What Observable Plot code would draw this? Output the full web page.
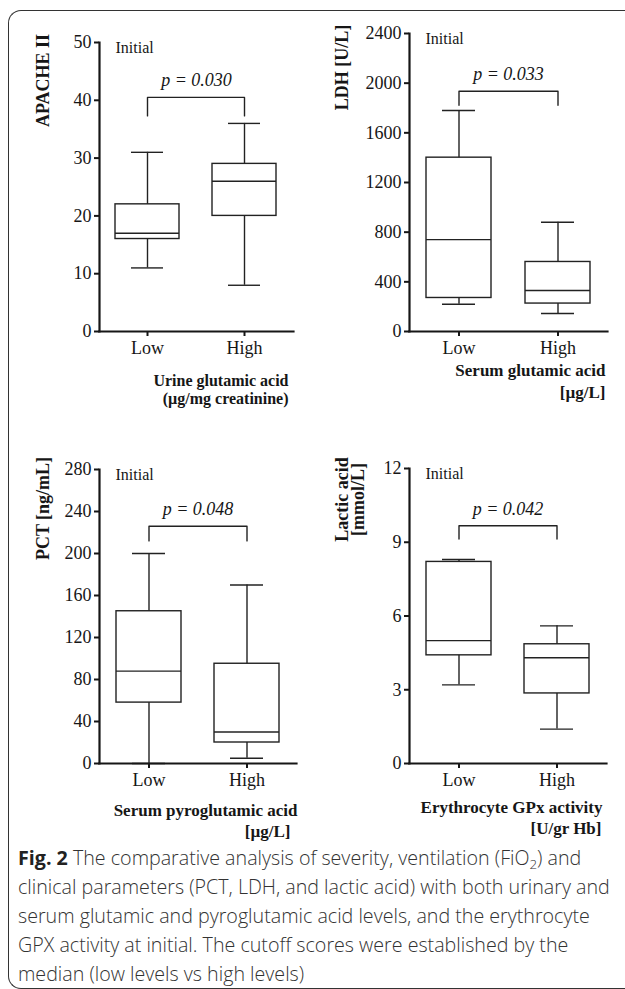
<!DOCTYPE html>
<html>
<head>
<meta charset="utf-8">
<script src="https://cdn.jsdelivr.net/npm/d3@7"></script>
<script src="https://cdn.jsdelivr.net/npm/@observablehq/plot@0.6"></script>
<style>
  html, body { margin: 0; padding: 0; background: #fff; }
  #root { position: relative; width: 625px; height: 989px; overflow: hidden; background: #fff; }
  .frame { position: absolute; left: 8px; top: 10px; width: 700px; height: 979px; box-sizing: border-box;
           border-left: 1.5px solid #333; border-top: 1.5px solid #333; border-bottom: 1.5px solid #333;
           border-radius: 13px 0 0 13px; }
  .panel { position: absolute; }
  .panel svg { overflow: visible; }
  .caption { position: absolute; left: 18px; top: 843px; white-space: nowrap; font-family: "Open Sans", sans-serif;
             font-size: 17px; font-weight: 300; line-height: 29px; color: #333; }
  .caption b { font-weight: 700; color: #222; }
  .caption sub { font-size: 0.68em; vertical-align: baseline; position: relative; top: 0.3em; line-height: 0; }
</style>
</head>
<body>
<div id="root">
  <div class="frame"></div>
  <div class="caption" id="caption"><b>Fig. 2</b> The comparative analysis of severity, ventilation (FiO<sub>2</sub>) and<br><span id="line2">clinical parameters (PCT, LDH, and lactic acid) with both urinary and</span><br>serum glutamic and pyroglutamic acid levels, and the erythrocyte<br>GPX activity at initial. The cutoff scores were established by the<br>median (low levels vs high levels)</div>
</div>
<script>
// ---------------- data ----------------
const groups = ["Low", "High"];
const yTitles = ["APACHE II", "LDH [U/L]", "PCT [ng/mL]", "Lactic acid\n[mmol/L]"];
const xTitlesLine1 = ["Urine glutamic acid", "Serum glutamic acid", "Serum pyroglutamic acid", "Erythrocyte GPx activity"];
const xTitlesLine2 = ["(µg/mg creatinine)", "[µg/L]", "[µg/L]", "[U/gr Hb]"];
const yDomains = [[0, 50], [0, 2400], [0, 280], [0, 12]];
const yTicks = [
  [0, 10, 20, 30, 40, 50],
  [0, 400, 800, 1200, 1600, 2000, 2400],
  [0, 40, 80, 120, 160, 200, 240, 280],
  [0, 3, 6, 9, 12]
];
// per panel: [Low, High]
const minVals    = [[11, 8],   [220, 145],   [0, 5],     [3.2, 1.4]];
const q1Vals     = [[16, 20],  [270, 225],   [58, 20],   [4.4, 2.85]];
const medianVals = [[17, 26],  [740, 330],   [88, 30],   [5.0, 4.3]];
const q3Vals     = [[22, 29],  [1400, 560],  [145, 95],  [8.2, 4.85]];
const maxVals    = [[31, 36],  [1780, 880],  [200, 170], [8.3, 5.6]];
const pLabels = ["p = 0.030", "p = 0.033", "p = 0.048", "p = 0.042"];
const bracketTop  = [40.5, 1935, 226, 9.67];
const bracketFoot = [37.3, 1822, 212, 9.13];
const panelNote = "Initial";

// ---------------- layout (styles only) ----------------
const layout = [
  {left: 0,   top: 0,   width: 312, height: 420, mL: 99, mR: 19, mT: 42, mB: 89,
   yt: {dx: -56, dy: 38}, xt: {dx1: -5, dx2: -5, dy1: 49, dy2: 67, size: 16}},
  {left: 312, top: 0,   width: 313, height: 420, mL: 97, mR: 18, mT: 33, mB: 89,
   yt: {dx: -67, dy: 34}, xt: {dx1: -2, dx2: -2, dy1: 39, dy2: 61, size: 17}},
  {left: 0,   top: 420, width: 312, height: 430, mL: 99, mR: 16, mT: 49, mB: 87,
   yt: {dx: -56, dy: 39}, xt: {dx1: 1, dx2: -6, dy1: 47, dy2: 68, size: 17}},
  {left: 312, top: 420, width: 313, height: 430, mL: 97, mR: 19, mT: 48, mB: 87,
   yt: {dx: -59, dy: 31}, xt: {dx1: -4, dx2: -5, dy1: 44, dy2: 65, size: 17}}
];

const ink = "#161616";
const boxInk = "#222";
const serif = "'Liberation Serif', 'Times New Roman', serif";
const root = document.getElementById("root");

layout.forEach((L, i) => {
  const rows = groups.map((g, j) => ({
    group: g, min: minVals[i][j], q1: q1Vals[i][j], median: medianVals[i][j], q3: q3Vals[i][j], max: maxVals[i][j]
  }));
  const bracket = [
    {group: groups[0], y: bracketFoot[i]},
    {group: groups[0], y: bracketTop[i]},
    {group: groups[1], y: bracketTop[i]},
    {group: groups[1], y: bracketFoot[i]}
  ];
  const chart = Plot.plot({
    width: L.width, height: L.height,
    marginLeft: L.mL, marginRight: L.mR, marginTop: L.mT, marginBottom: L.mB,
    style: {fontFamily: serif, fontSize: "18px", color: ink, background: "transparent", overflow: "visible"},
    x: {type: "band", domain: groups, paddingInner: 0.34, paddingOuter: 0.165, axis: null},
    y: {domain: yDomains[i], axis: null},
    marks: [
      Plot.ruleX(rows, {x: "group", y1: "min", y2: "max", stroke: boxInk, strokeWidth: 1.4}),
      Plot.barY(rows, {x: "group", y1: "q1", y2: "q3", fill: "white", stroke: boxInk, strokeWidth: 1.4}),
      Plot.tickY(rows, {x: "group", y: "median", stroke: boxInk, strokeWidth: 1.4}),
      Plot.tickY(rows, {x: "group", y: "min", stroke: boxInk, strokeWidth: 1.4, insetLeft: 16, insetRight: 16}),
      Plot.tickY(rows, {x: "group", y: "max", stroke: boxInk, strokeWidth: 1.4, insetLeft: 16, insetRight: 16}),
      Plot.line(bracket, {x: "group", y: "y", stroke: boxInk, strokeWidth: 1.4}),
      Plot.text([{y: bracketTop[i], label: pLabels[i]}], {
        y: "y", text: "label", frameAnchor: "middle", lineAnchor: "middle", dy: -17,
        fontStyle: "italic", fontSize: 18, fill: ink
      }),
      Plot.text([panelNote], {text: d => d, frameAnchor: "top-left", textAnchor: "start", lineAnchor: "middle",
        dx: 16, dy: 5, fontSize: 16, fill: ink}),
      Plot.text([yTitles[i]], {text: d => d, frameAnchor: "top-left", rotate: -90, textAnchor: "middle",
        lineAnchor: "middle", lineHeight: 0.9, dx: L.yt.dx, dy: L.yt.dy, fontWeight: "bold", fontSize: 18, fill: ink}),
      Plot.text([xTitlesLine1[i]], {text: d => d, frameAnchor: "bottom-right", textAnchor: "end", lineAnchor: "middle",
        dx: L.xt.dx1, dy: L.xt.dy1, fontWeight: "bold", fontSize: L.xt.size, fill: ink}),
      Plot.text([xTitlesLine2[i]], {text: d => d, frameAnchor: "bottom-right", textAnchor: "end", lineAnchor: "middle",
        dx: L.xt.dx2, dy: L.xt.dy2, fontWeight: "bold", fontSize: L.xt.size, fill: ink}),
      Plot.axisY({ticks: yTicks[i], tickFormat: d => String(d), tickSize: 5, tickPadding: 3, fontSize: 18,
        label: null, strokeWidth: 2, stroke: ink, fill: ink}),
      Plot.axisX({tickSize: 5, tickPadding: 5, fontSize: 18, label: null, strokeWidth: 2, stroke: ink, fill: ink}),
      Plot.frame({anchor: "left", stroke: ink, strokeWidth: 2.2}),
      Plot.frame({anchor: "bottom", stroke: ink, strokeWidth: 2.2})
    ]
  });
  const holder = document.createElement("div");
  holder.className = "panel";
  holder.style.left = L.left + "px";
  holder.style.top = L.top + "px";
  holder.appendChild(chart);
  root.appendChild(holder);
});

// fit caption font so line 2 spans the width seen in the reference
(function fitCaption() {
  const target = 592;
  const c = document.createElement("canvas").getContext("2d");
  c.font = "300 17px 'Open Sans'";
  const w = c.measureText(document.getElementById("line2").textContent).width;
  if (w > 0) document.getElementById("caption").style.fontSize = (17 * target / w).toFixed(2) + "px";
})();
</script>
</body>
</html>
